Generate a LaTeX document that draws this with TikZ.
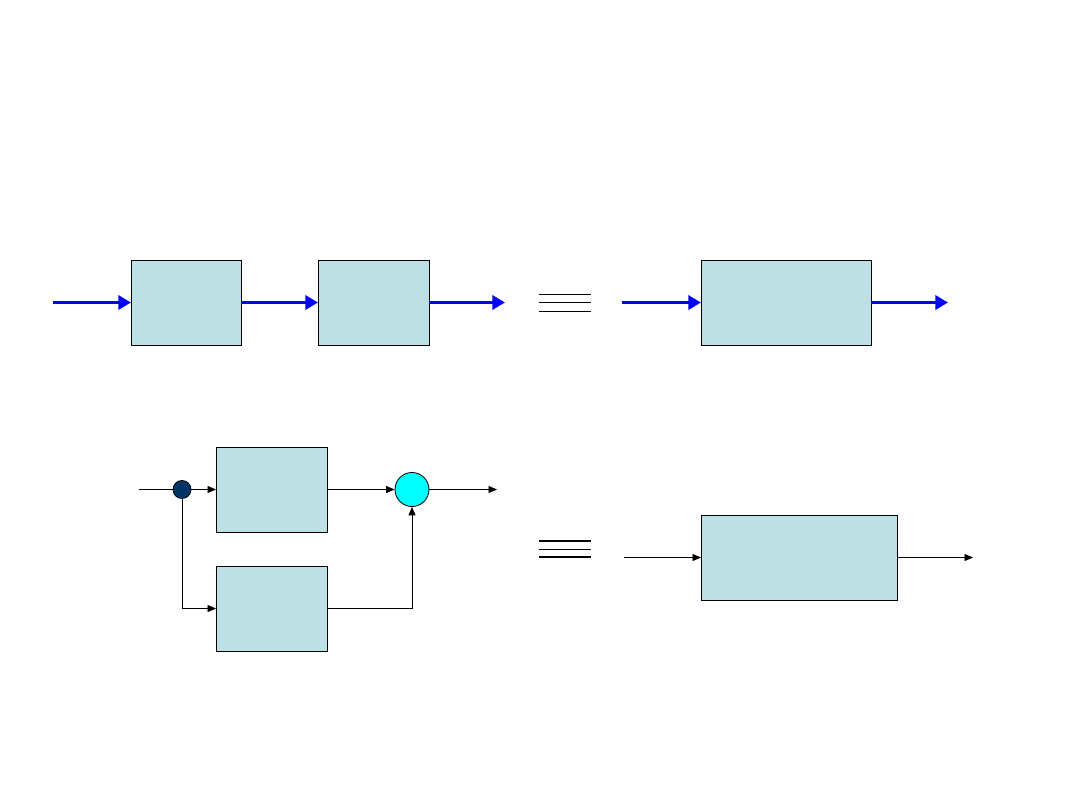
\documentclass[tikz,border=0pt]{standalone}
\usetikzlibrary{arrows.meta}
\definecolor{blkfill}{RGB}{188,224,227}
\definecolor{dotnavy}{RGB}{0,51,102}
\definecolor{sumcyan}{RGB}{0,255,255}
\begin{document}
\begin{tikzpicture}[x=0.025cm,y=-0.025cm,
  blk/.style={draw,fill=blkfill,line width=0.6pt,minimum height=2.125cm,inner sep=0pt,outer sep=0pt},
  bigarr/.style={-{Triangle[length=9pt,width=10pt]},blue,line width=2.6pt},
  sig/.style={-{Triangle[length=6pt,width=5pt]},line width=0.6pt}]
\useasboundingbox (0,0) rectangle (1080,810);
% series
\node[blk,minimum width=2.75cm] (g1) at (186,302.5) {};
\node[blk,minimum width=2.775cm] (g2) at (373.5,302.5) {};
\node[blk,minimum width=4.25cm] (gser) at (786,302.5) {};
\coordinate (in1) at (53,302.5);
\coordinate (out1) at (505,302.5);
\coordinate (in2) at (622,302.5);
\coordinate (out2) at (948,302.5);
\draw[bigarr] (in1) -- (g1);
\draw[bigarr] (g1) -- (g2);
\draw[bigarr] (g2) -- (out1);
\draw[bigarr] (in2) -- (gser);
\draw[bigarr] (gser) -- (out2);
% equivalence
\draw[line width=0.6pt] (539,294) -- (591,294) (539,311) -- (591,311);
\draw[line width=1.3pt] (539,302.5) -- (591,302.5);
% parallel
\node[blk,minimum width=2.775cm] (p1) at (271.5,489.5) {};
\node[blk,minimum width=2.775cm] (p2) at (271.5,608.5) {};
\node[circle,draw,fill=dotnavy,minimum size=0.45cm,inner sep=0pt,line width=0.6pt] (split) at (182,489.5) {};
\node[circle,draw,fill=sumcyan,minimum size=0.85cm,inner sep=0pt,line width=0.6pt] (sum) at (412,489.5) {};
\coordinate (in3) at (139,489.5);
\coordinate (out3) at (497,489.5);
\draw[line width=0.6pt] (in3) -- (split);
\draw[sig] (split) -- (p1);
\draw[sig] (split) |- (p2);
\draw[sig] (p1) -- (sum);
\draw[sig] (p2) -| (sum);
\draw[sig] (sum) -- (out3);
% equivalence
\draw[line width=1.3pt] (539,541) -- (591,541) (539,557) -- (591,557);
\draw[line width=0.6pt] (539,549) -- (591,549);
\node[blk,minimum width=4.9cm] (gpar) at (799,557.5) {};
\coordinate (in4) at (624,557.5);
\coordinate (out4) at (973,557.5);
\draw[sig] (in4) -- (gpar);
\draw[sig] (gpar) -- (out4);
\end{tikzpicture}
\end{document}
